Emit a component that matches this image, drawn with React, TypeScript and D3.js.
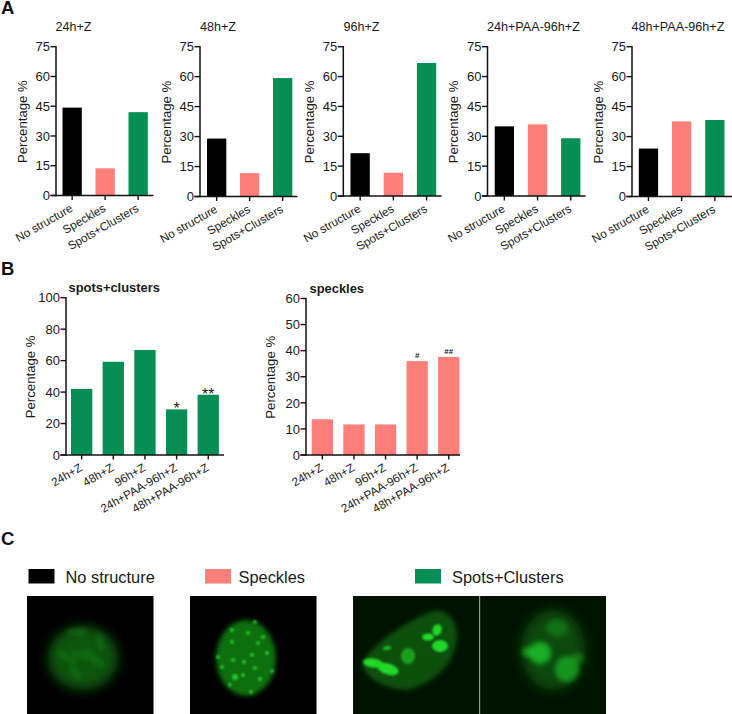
import React from "react";
import * as d3 from "d3";

const BLACK = "#000000";
const PINK = "#fe7f7a";
const GREEN = "#058f54";
const FONT = "'Liberation Sans', Arial, sans-serif";

const structureCats = ["No structure", "Speckles", "Spots+Clusters"];
const timeCats = ["24h+Z", "48h+Z", "96h+Z", "24h+PAA-96h+Z", "48h+PAA-96h+Z"];
const ticks75 = [0, 15, 30, 45, 60, 75];
const ticks100 = [0, 20, 40, 60, 80, 100];
const ticks60 = [0, 10, 20, 30, 40, 50, 60];

const a24 = [44.3, 13.7, 42];
const a48 = [29, 11.7, 59.3];
const a96 = [21.5, 11.7, 66.8];
const a24paa = [35, 36, 29];
const a48paa = [24, 37.6, 38.3];
const bSpots = [42, 59.3, 66.8, 29, 38.3];
const bSpeckles = [13.7, 11.7, 11.7, 36, 37.6];
const bSpotsMarks = ["", "", "", "*", "**"];
const bSpecklesMarks = ["", "", "", "#", "##"];

const legendItems = ["No structure", "Speckles", "Spots+Clusters"];

type PanelProps = {
  axisX: number; endX: number; top: number; bottom: number; first: number; barW: number; step: number;
  max: number; ticks: number[]; cats: string[]; values: number[]; colors: string[];
  title: string; titleX: number; titleY: number; bold?: boolean; marks?: string[];
  catSize: number; labelX: number;
};

function Panel(p: PanelProps) {
  const y = d3.scaleLinear().domain([0, p.max]).range([p.bottom, p.top]);
  const bw = p.barW;
  return (
    <g fontFamily={FONT} fill="#1a1a1a">
      <text x={p.titleX} y={p.titleY} fontSize={p.bold ? 12.9 : 12.6} fontWeight={p.bold ? 700 : 400}>{p.title}</text>
      {p.cats.map((c, i) => {
        const bx = p.first + i * p.step;
        const isHash = p.marks && p.marks[i].includes("#");
        return (
          <g key={c}>
            <rect x={bx} y={y(p.values[i])} width={bw} height={p.bottom - y(p.values[i])} fill={p.colors[i]} />
            <line x1={bx + bw / 2} x2={bx + bw / 2} y1={p.bottom} y2={p.bottom + 4.5} stroke="#111" strokeWidth={1.4} />
            <text textAnchor="end" fontSize={p.catSize}
              transform={`translate(${bx + bw / 2 + 1.5},${p.bottom + 15}) rotate(-30)`}>{c}</text>
            {p.marks && p.marks[i] ? (
              <text x={bx + bw / 2} y={y(p.values[i]) + (isHash ? -3 : 5)} textAnchor="middle"
                fontWeight={isHash ? 700 : 400} fontSize={isHash ? 8 : 16}>{p.marks[i]}</text>
            ) : null}
          </g>
        );
      })}
      <line x1={p.axisX} x2={p.axisX} y1={p.top - 0.7} y2={p.bottom + 0.7} stroke="#111" strokeWidth={1.5} />
      <line x1={p.axisX - 5.5} x2={p.endX} y1={p.bottom} y2={p.bottom} stroke="#111" strokeWidth={1.5} />
      {p.ticks.map((t) => (
        <g key={t}>
          <line x1={p.axisX - 5.5} x2={p.axisX} y1={y(t)} y2={y(t)} stroke="#111" strokeWidth={1.4} />
          <text x={p.axisX - 6} y={y(t) + 4.7} textAnchor="end" fontSize={13}>{t}</text>
        </g>
      ))}
      <text textAnchor="middle" fontSize={13.2}
        transform={`translate(${p.labelX},${(p.top + p.bottom) / 2 + 0.5}) rotate(-90)`}>Percentage %</text>
    </g>
  );
}

const rgbStruct = [BLACK, PINK, GREEN];
const panelsA = [
  { axisX: 56, endX: 153.5, bottom: 195.5, first: 62.5, step: 33, title: "24h+Z", titleX: 55.5, values: a24 },
  { axisX: 200, endX: 297.5, bottom: 196.5, first: 207, step: 33, title: "48h+Z", titleX: 200, values: a48 },
  { axisX: 343.3, endX: 441.5, bottom: 196, first: 350.5, step: 33.2, title: "96h+Z", titleX: 343.5, values: a96 },
  { axisX: 487.5, endX: 585.5, bottom: 196, first: 494.7, step: 33.2, title: "24h+PAA-96h+Z", titleX: 487, values: a24paa },
  { axisX: 632, endX: 732, bottom: 196.5, first: 638.8, step: 33.2, title: "48h+PAA-96h+Z", titleX: 631.5, values: a48paa },
];

const spots2 = [
  [232, 630], [248, 633], [255, 622], [263, 637], [232, 642], [258, 643], [218, 657], [267, 653], [233, 660], [252, 655],
  [272, 671], [235, 677], [243, 675], [260, 679], [251, 692], [230, 685], [222, 667], [244, 662], [255, 668],
];
const ridges1 = [
  [67, 657, 13, 3, 30], [80, 655, 10, 3, 20], [93, 658, 14, 3.5, 40], [100, 642, 10, 3, 80], [77, 632, 11, 3, 0], [75, 672, 9, 3, 60],
];
const clusters3 = [
  [373, 663, 10, 4.5, 8, 1], [388, 669, 11, 5.5, 18, 1], [387, 648, 4, 2.2, -10, 0.75], [408, 656, 7, 8, 10, 0.6],
  [437, 630, 4.5, 6, 20, 1], [428, 637, 6, 3.5, 0, 1], [440, 646, 8, 6, 0, 1],
];
const clusters4 = [
  [540, 653, 11, 11, 30, 0.8], [528, 652, 6, 5, 0, 0.65], [557, 628, 11, 9, 0, 0.3], [567, 669, 12, 13, 10, 0.6], [578, 658, 6, 5, 0, 0.4], [588, 662, 1.3, 1.3, 0, 0.35],
];

export default function App() {
  return (
    <svg width={732} height={714} viewBox="0 0 732 714"
      style={{ position: "absolute", left: 0, top: 0, background: "#fff" }}>
      <defs>
        <filter id="bl1" x="-100%" y="-100%" width="300%" height="300%"><feGaussianBlur stdDeviation="1.3" /></filter>
        <filter id="bl2" x="-50%" y="-50%" width="200%" height="200%"><feGaussianBlur stdDeviation="2.8" /></filter>
        <filter id="bl3" x="-50%" y="-50%" width="200%" height="200%"><feGaussianBlur stdDeviation="6" /></filter>
        <clipPath id="c1"><rect x={27} y={596} width={126.5} height={118} /></clipPath>
        <clipPath id="c2"><rect x={190} y={596} width={126} height={118} /></clipPath>
        <clipPath id="c3"><rect x={353} y={596} width={126} height={118} /></clipPath>
        <clipPath id="c4"><rect x={480} y={596} width={126} height={118} /></clipPath>
      </defs>

      {["A", "B", "C"].map((l, i) => (
        <text key={l} x={1} y={[14, 274.5, 544.5][i]} fontFamily={FONT} fontSize={18.5} fontWeight={700} fill="#111">{l}</text>
      ))}

      {panelsA.map((p) => (
        <Panel key={p.title} axisX={p.axisX} endX={p.endX} top={46.7} bottom={p.bottom} first={p.first} barW={19.3}
          step={p.step} max={75} ticks={ticks75} cats={structureCats} values={p.values} colors={rgbStruct}
          title={p.title} titleX={p.titleX} titleY={31} catSize={11.7} labelX={26.5 + p.axisX - 56} />
      ))}

      <Panel axisX={66} endX={224} top={297.7} bottom={455} first={71} barW={21.3} step={31.65} max={100}
        ticks={ticks100} cats={timeCats} values={bSpots} colors={timeCats.map(() => GREEN)} title="spots+clusters"
        titleX={68.5} titleY={292} bold marks={bSpotsMarks} catSize={11.7} labelX={35} />
      <Panel axisX={306} endX={460} top={298.5} bottom={455} first={311.7} barW={21.3} step={31.6} max={60}
        ticks={ticks60} cats={timeCats} values={bSpeckles} colors={timeCats.map(() => PINK)} title="speckles"
        titleX={309.5} titleY={293} bold marks={bSpecklesMarks} catSize={11.7} labelX={275} />

      {legendItems.map((l, i) => (
        <g key={l} fontFamily={FONT}>
          <rect x={[28.5, 205, 415][i]} y={569} width={26} height={14.5} fill={rgbStruct[i]} />
          <text x={[65.5, 238.5, 452][i]} y={582.5} fontSize={16.4} fill="#1a1a1a">{l}</text>
        </g>
      ))}

      <rect x={27} y={596} width={126.5} height={118} fill="#000" />
      <g clipPath="url(#c1)">
        <ellipse cx={83} cy={658} rx={35} ry={32} fill="#0b5510" filter="url(#bl3)" />
        {ridges1.map((r, i) => (
          <ellipse key={i} cx={r[0]} cy={r[1]} rx={r[2]} ry={r[3]} fill="#127416" opacity={0.75} filter="url(#bl2)"
            transform={`rotate(${r[4]} ${r[0]} ${r[1]})`} />
        ))}
      </g>
      <rect x={190} y={596} width={126.5} height={118} fill="#000" />
      <g clipPath="url(#c2)">
        <ellipse cx={246} cy={658} rx={30} ry={38} fill="#0b6f10" filter="url(#bl2)" />
        {spots2.map((s, i) => (
          <circle key={i} cx={s[0]} cy={s[1]} r={i === 11 ? 3 : 2} fill="#2fd23a" opacity={0.85} filter="url(#bl1)" />
        ))}
      </g>
      <rect x={353} y={596} width={126.5} height={118} fill="#001200" />
      <rect x={480} y={596} width={126} height={118} fill="#001300" />
      <g clipPath="url(#c3)">
        <path d="M362 663 C375 640 410 620 430 612 C445 606 458 620 457 638 C454 665 435 682 408 690 C390 690 364 680 362 663Z"
          fill="#0a4f0e" filter="url(#bl2)" />
        {clusters3.map((c, i) => (
          <ellipse key={i} cx={c[0]} cy={c[1]} rx={c[2]} ry={c[3]} fill="#22d82c" opacity={c[5]} filter="url(#bl1)"
            transform={`rotate(${c[4]} ${c[0]} ${c[1]})`} />
        ))}
      </g>
      <g clipPath="url(#c4)">
        <ellipse cx={553} cy={650} rx={32} ry={40} fill="#0a4a0e" filter="url(#bl3)" />
        {clusters4.map((c, i) => (
          <ellipse key={i} cx={c[0]} cy={c[1]} rx={c[2]} ry={c[3]} fill="#1fc82a" opacity={c[5]} filter="url(#bl2)"
            transform={`rotate(${c[4]} ${c[0]} ${c[1]})`} />
        ))}
      </g>
      <line x1={479.7} x2={479.7} y1={596} y2={714} stroke="#8fa98f" strokeWidth={0.8} />
    </svg>
  );
}
